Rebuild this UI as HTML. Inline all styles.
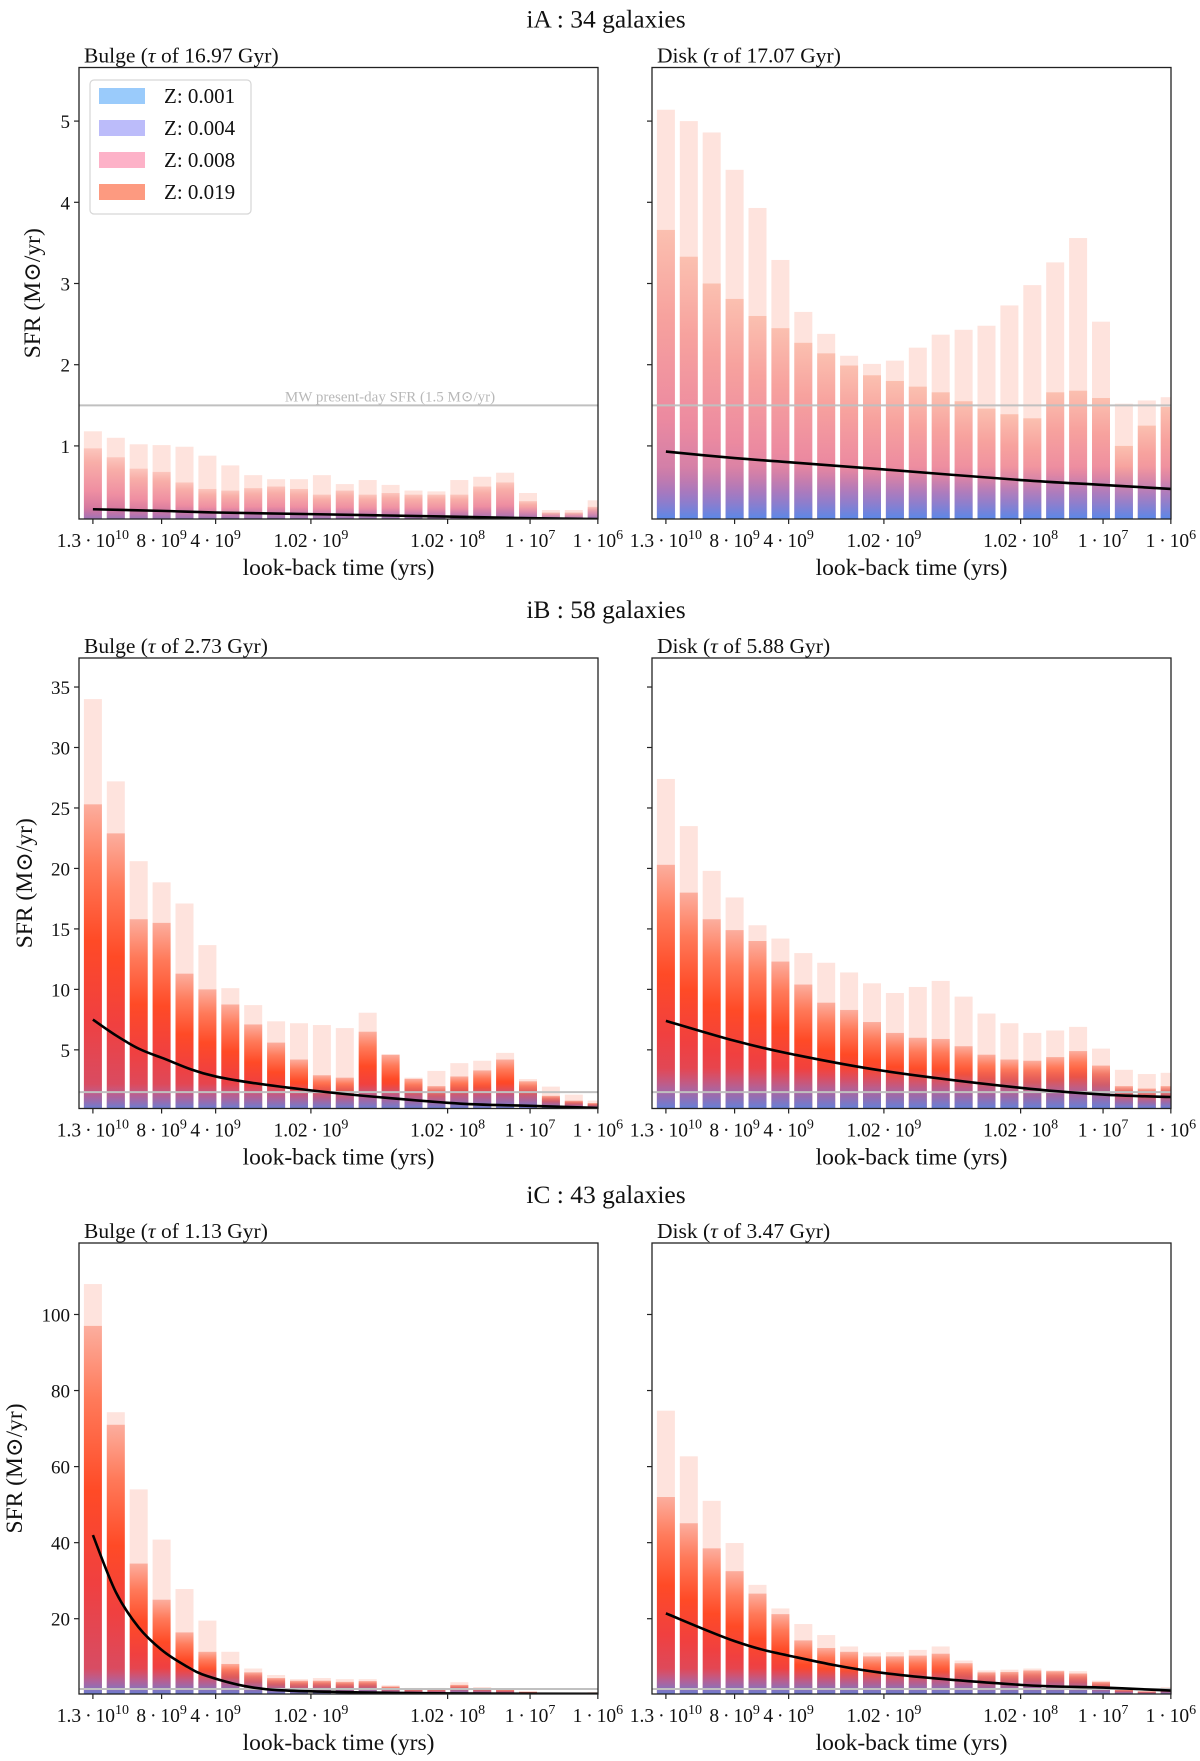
<!DOCTYPE html>
<html><head><meta charset="utf-8">
<style>
html,body{margin:0;padding:0;background:#fff;}
svg{display:block;font-family:"Liberation Serif","DejaVu Serif",serif;}
</style></head>
<body>
<svg id="fig" width="1200" height="1761" viewBox="0 0 1200 1761" xmlns="http://www.w3.org/2000/svg">
<defs>
<linearGradient id="gA1" x1="0" y1="1" x2="0" y2="0"><stop offset="0" stop-color="#c46a9c"/><stop offset="0.4" stop-color="#ef8fa2"/><stop offset="0.8" stop-color="#f8aea8"/><stop offset="1" stop-color="#fcc6bd"/></linearGradient>
<linearGradient id="gA2" x1="0" y1="1" x2="0" y2="0"><stop offset="0" stop-color="#b874b0"/><stop offset="0.35" stop-color="#ec8aa0"/><stop offset="0.7" stop-color="#f7a29e"/><stop offset="1" stop-color="#fbc0b0"/></linearGradient>
<linearGradient id="gR" x1="0" y1="1" x2="0" y2="0"><stop offset="0" stop-color="#d0506e"/><stop offset="0.3" stop-color="#f04040"/><stop offset="0.55" stop-color="#ff4a26"/><stop offset="0.8" stop-color="#ff7a5a"/><stop offset="1" stop-color="#fcae9e"/></linearGradient>
<linearGradient id="gBlue" x1="0" y1="1" x2="0" y2="0"><stop offset="0" stop-color="#4a8cf2" stop-opacity="0.95"/><stop offset="0.5" stop-color="#8a78d0" stop-opacity="0.6"/><stop offset="1" stop-color="#b070b0" stop-opacity="0"/></linearGradient>
</defs>
<g id="root"></g>
</svg>
<script>
// ---- shared x categories / ticks ----
const tickIdx = [0, 3, 5.36, 9.52, 15.49, 19.09, 22.05];
const tickMant = ["1.3", "8", "4", "1.02", "1.02", "1", "1"];
const tickExp = ["10", "9", "9", "9", "8", "7", "6"];

// ---- iA ----
const aBulgeTotal = [1.18,1.10,1.02,1.01,0.99,0.88,0.76,0.64,0.59,0.59,0.64,0.53,0.58,0.52,0.45,0.44,0.58,0.62,0.67,0.42,0.21,0.21,0.33];
const aBulgeCore = [0.97,0.86,0.72,0.68,0.55,0.47,0.45,0.48,0.50,0.47,0.40,0.45,0.40,0.42,0.40,0.40,0.40,0.50,0.55,0.32,0.18,0.18,0.25];
const aBulgeLineIdx = [0,3,5.36,9.52,15.49,19.09,22.05];
const aBulgeLineVal = [0.22,0.20,0.18,0.16,0.13,0.11,0.10];
const aDiskTotal = [5.14,5.00,4.86,4.40,3.93,3.29,2.65,2.38,2.11,2.01,2.05,2.21,2.37,2.43,2.48,2.73,2.98,3.26,3.56,2.53,1.52,1.56,1.60];
const aDiskCore = [3.66,3.33,3.00,2.81,2.60,2.45,2.27,2.14,1.99,1.87,1.80,1.73,1.66,1.55,1.46,1.39,1.34,1.66,1.68,1.59,1.00,1.25,1.48];
const aDiskLineIdx = [0,3,5.36,9.52,15.49,19.09,22.05];
const aDiskLineVal = [0.93,0.85,0.80,0.71,0.58,0.52,0.47];
const aYTicks = [1,2,3,4,5];

// ---- iB ----
const bBulgeTotal = [34.0,27.2,20.6,18.85,17.1,13.66,10.1,8.7,7.36,7.2,7.05,6.8,8.07,4.6,2.7,3.26,3.9,4.1,4.75,2.58,1.96,1.3,0.8];
const bBulgeCore = [25.3,22.9,15.8,15.5,11.3,10.0,8.75,7.1,5.6,4.2,2.9,2.7,6.5,4.6,2.6,2.0,2.8,3.3,4.2,2.4,1.2,0.8,0.6];
const bBulgeLineIdx = [0,1,2,3,5.36,9.52,15.49,19.09,22.05];
const bBulgeLineVal = [7.5,6.2,5.1,4.35,2.8,1.65,0.62,0.37,0.2];
const bDiskTotal = [27.4,23.5,19.8,17.6,15.3,14.2,13.0,12.2,11.4,10.5,9.7,10.2,10.7,9.4,8.0,7.2,6.4,6.6,6.9,5.1,3.35,3.0,3.1];
const bDiskCore = [20.3,18.0,15.8,14.9,14.0,12.3,10.4,8.9,8.3,7.3,6.4,6.0,5.9,5.3,4.6,4.2,4.1,4.4,4.9,3.7,2.0,1.8,2.0];
const bDiskLineIdx = [0,3,5.36,9.52,15.49,19.09,22.05];
const bDiskLineVal = [7.4,5.75,4.7,3.26,1.86,1.3,1.1];
const bYTicks = [5,10,15,20,25,30,35];

// ---- iC ----
const cBulgeTotal = [108,74.3,54,40.8,27.8,19.5,11.3,6.9,5.2,4.1,4.4,4.1,4.1,2.5,1.8,1.8,3.3,2.0,1.6,0.9,0.6,0.5,0.7];
const cBulgeCore = [97,71,34.5,25,16.4,11.3,8.1,5.9,4.4,3.7,3.7,3.4,3.6,2.2,1.6,1.6,2.6,1.8,1.4,0.8,0.5,0.4,0.6];
const cBulgeLineIdx = [0,1,2,3,4,5,7,9.52,15.49,22.05];
const cBulgeLineVal = [42,27,17.7,11.8,7.8,4.9,1.9,0.9,0.35,0.25];
const cDiskTotal = [74.7,62.7,51,39.9,28.9,22.7,18.6,15.7,12.7,11.1,11.2,11.8,12.7,9.0,6.4,6.6,6.9,6.4,6.2,3.7,1.4,0.9,2.0];
const cDiskCore = [52,45.1,38.5,32.5,26.6,21.2,14.3,12.3,11.3,10.1,10.1,10.3,10.8,8.3,5.9,6.0,6.4,6.2,5.6,3.4,1.4,0.9,1.5];
const cDiskLineIdx = [0,3,5.36,9.52,15.49,19.09,22.05];
const cDiskLineVal = [21.4,14.1,10.3,5.7,2.6,1.9,1.1];
const cYTicks = [20,40,60,80,100];

const mwSFR = 1.5;

const NS = "http://www.w3.org/2000/svg";
const root = document.getElementById('root');
function mk(tag, attrs, parent) {
  const e = document.createElementNS(NS, tag);
  for (const k in attrs) e.setAttribute(k, attrs[k]);
  (parent || root).appendChild(e);
  return e;
}

const W = 519, X0 = 13.9, STEP = 22.9, BW = 18;

function panel(cfg) {
  const g = mk('g', {});
  
  
  const L = cfg.left, T = cfg.top, B = cfg.bottom;
  const ymax = cfg.ymax, ymin = cfg.ymin;
  const xs = i => L + X0 + i * STEP;
  const ys = v => B - (v - ymin) / (ymax - ymin) * (B - T);
  const clipId = 'clip-' + cfg.name;
  const cp = mk('clipPath', {id: clipId}, g);
  mk('rect', {x: L, y: T, width: W, height: B - T}, cp);
  const plot = mk('g', {'clip-path': 'url(#' + clipId + ')'}, g);
  
  
  for (let i = 0; i < cfg.total.length; i++) {
    const x = xs(i) - BW / 2;
    const p = mk('rect', {x: x, y: ys(cfg.total[i]), width: BW, height: B - ys(cfg.total[i]), fill: '#fee3dd'}, plot);
    
    
    const c = mk('rect', {x: x, y: ys(cfg.core[i]), width: BW, height: B - ys(cfg.core[i]), fill: 'url(#' + cfg.grad + ')'}, plot);
    
    
    const bt = Math.min(cfg.core[i], cfg.blueTop);
    const bl = mk('rect', {x: x, y: ys(bt), width: BW, height: B - ys(bt), fill: 'url(#gBlue)', opacity: cfg.blueOp}, plot);
    
    
  }
  const mw = mk('line', {x1: L, x2: L + W, y1: ys(mwSFR), y2: ys(mwSFR), stroke: '#c0c0c0', 'stroke-width': 2}, plot);
  
  
  if (cfg.mwLabel) {
    const t = mk('text', {x: L + 311, y: ys(mwSFR) - 4, 'text-anchor': 'middle', 'font-size': 15, fill: '#b8b8b8'}, g);
    t.textContent = 'MW present-day SFR (1.5 M\u2299/yr)';
    
    
  }
  const pts = cfg.lineIdx.map((v, k) => [xs(v), ys(cfg.lineVal[k])]);
  let d = 'M' + pts[0][0] + ',' + pts[0][1];
  for (let k = 0; k < pts.length - 1; k++) {
    const p0 = pts[Math.max(0, k - 1)], p1 = pts[k], p2 = pts[k + 1], p3 = pts[Math.min(pts.length - 1, k + 2)];
    const c1x = p1[0] + (p2[0] - p0[0]) / 6, c1y = p1[1] + (p2[1] - p0[1]) / 6;
    const c2x = p2[0] - (p3[0] - p1[0]) / 6, c2y = p2[1] - (p3[1] - p1[1]) / 6;
    d += ' C' + c1x + ',' + c1y + ' ' + c2x + ',' + c2y + ' ' + p2[0] + ',' + p2[1];
  }
  const ln = mk('path', {d: d, fill: 'none', stroke: '#000', 'stroke-width': 2.6}, plot);
  
  
  const fr = mk('rect', {x: L, y: T, width: W, height: B - T, fill: 'none', stroke: '#222', 'stroke-width': 1.3}, g);
  
  
  cfg.yticks.forEach(v => {
    mk('line', {x1: L - 5, x2: L, y1: ys(v), y2: ys(v), stroke: '#222', 'stroke-width': 1.2}, g);
    if (cfg.ylabels) {
      const t = mk('text', {x: L - 9, y: ys(v) + 7, 'text-anchor': 'end', 'font-size': 19, fill: '#111'}, g);
      t.textContent = v;
      
      
    }
  });
  tickIdx.forEach((v, k) => {
    const x = xs(v);
    mk('line', {x1: x, x2: x, y1: B, y2: B + 5, stroke: '#222', 'stroke-width': 1.2}, g);
    const t = mk('text', {x: x, y: B + 28, 'text-anchor': 'middle', 'font-size': 19.5, fill: '#111'}, g);
    
    
    const s1 = mk('tspan', {}, t); s1.textContent = tickMant[k] + '\u2009\u00b7\u200910';
    const s2 = mk('tspan', {dy: -8, 'font-size': 14}, t); s2.textContent = tickExp[k];
  });
  const xl = mk('text', {x: L + W / 2, y: B + 56, 'text-anchor': 'middle', 'font-size': 23.5, fill: '#111'}, g);
  xl.textContent = 'look-back time (yrs)';
  
  
  if (cfg.ylabels) {
    const yl = mk('text', {x: 0, y: 0, 'text-anchor': 'middle', 'font-size': 23.5, fill: '#111', transform: 'translate(' + cfg.ylabX + ',' + (T + B) / 2 + ') rotate(-90)'}, g);
    yl.textContent = 'SFR (M\u2299/yr)';
    
    
  }
  const st = mk('text', {x: L + 5, y: T - 5, 'font-size': 21.5, fill: '#111'}, g);
  
  
  const a = mk('tspan', {}, st); a.textContent = cfg.sub[0] + ' (';
  const b = mk('tspan', {'font-style': 'italic'}, st); b.textContent = '\u03c4';
  const c = mk('tspan', {}, st); c.textContent = ' of ' + cfg.sub[1] + ' Gyr)';
}

const rows = [
  {top: 67.5, bottom: 519, ymin: 0.1, ymax: 5.66, title: 'iA : 34 galaxies', ylabX: 40,
   bulge: {total: aBulgeTotal, core: aBulgeCore, lineIdx: aBulgeLineIdx, lineVal: aBulgeLineVal, grad: 'gA1', blueTop: 0.25, blueOp: 0.35, sub: ['Bulge', '16.97'], mwLabel: true},
   disk: {total: aDiskTotal, core: aDiskCore, lineIdx: aDiskLineIdx, lineVal: aDiskLineVal, grad: 'gA2', blueTop: 0.75, blueOp: 0.9, sub: ['Disk', '17.07']},
   yt: aYTicks},
  {top: 658, bottom: 1108.5, ymin: 0.15, ymax: 37.4, title: 'iB : 58 galaxies', ylabX: 32,
   bulge: {total: bBulgeTotal, core: bBulgeCore, lineIdx: bBulgeLineIdx, lineVal: bBulgeLineVal, grad: 'gR', blueTop: 2.2, blueOp: 0.8, sub: ['Bulge', '2.73']},
   disk: {total: bDiskTotal, core: bDiskCore, lineIdx: bDiskLineIdx, lineVal: bDiskLineVal, grad: 'gR', blueTop: 3.5, blueOp: 0.85, sub: ['Disk', '5.88']},
   yt: bYTicks},
  {top: 1243, bottom: 1694, ymin: 0.2, ymax: 118.8, title: 'iC : 43 galaxies', ylabX: 22,
   bulge: {total: cBulgeTotal, core: cBulgeCore, lineIdx: cBulgeLineIdx, lineVal: cBulgeLineVal, grad: 'gR', blueTop: 7, blueOp: 0.8, sub: ['Bulge', '1.13']},
   disk: {total: cDiskTotal, core: cDiskCore, lineIdx: cDiskLineIdx, lineVal: cDiskLineVal, grad: 'gR', blueTop: 7, blueOp: 0.8, sub: ['Disk', '3.47']},
   yt: cYTicks}
];

rows.forEach((r, ri) => {
  const t = mk('text', {x: 606, y: r.top - 40, 'text-anchor': 'middle', 'font-size': 25.5, fill: '#111'});
  t.textContent = r.title;
  
  
  panel(Object.assign({name: 'bulge-panel-' + ri, left: 79, top: r.top, bottom: r.bottom, ymin: r.ymin, ymax: r.ymax, yticks: r.yt, ylabels: true, ylabX: r.ylabX}, r.bulge));
  panel(Object.assign({name: 'disk-panel-' + ri, left: 652, top: r.top, bottom: r.bottom, ymin: r.ymin, ymax: r.ymax, yticks: r.yt, ylabels: false}, r.disk));
});

const legZ = ["0.001", "0.004", "0.008", "0.019"];
const legCol = ["#9acbfb", "#bcbcfa", "#fdb2c8", "#fd9a80"];
const lg = mk('g', {});


mk('rect', {x: 90, y: 80, width: 161, height: 134, rx: 4, fill: '#fff', 'fill-opacity': 0.85, stroke: '#d6d6d6', 'stroke-width': 1.2}, lg);
legZ.forEach((z, k) => {
  const cy = 96 + k * 32;
  const sw = mk('rect', {x: 99, y: cy - 8, width: 46, height: 16, fill: legCol[k]}, lg);
  
  
  const t = mk('text', {x: 164, y: cy + 7, 'font-size': 21, fill: '#111'}, lg);
  t.textContent = 'Z: ' + z;
  
  
});
</script>
</body></html>
